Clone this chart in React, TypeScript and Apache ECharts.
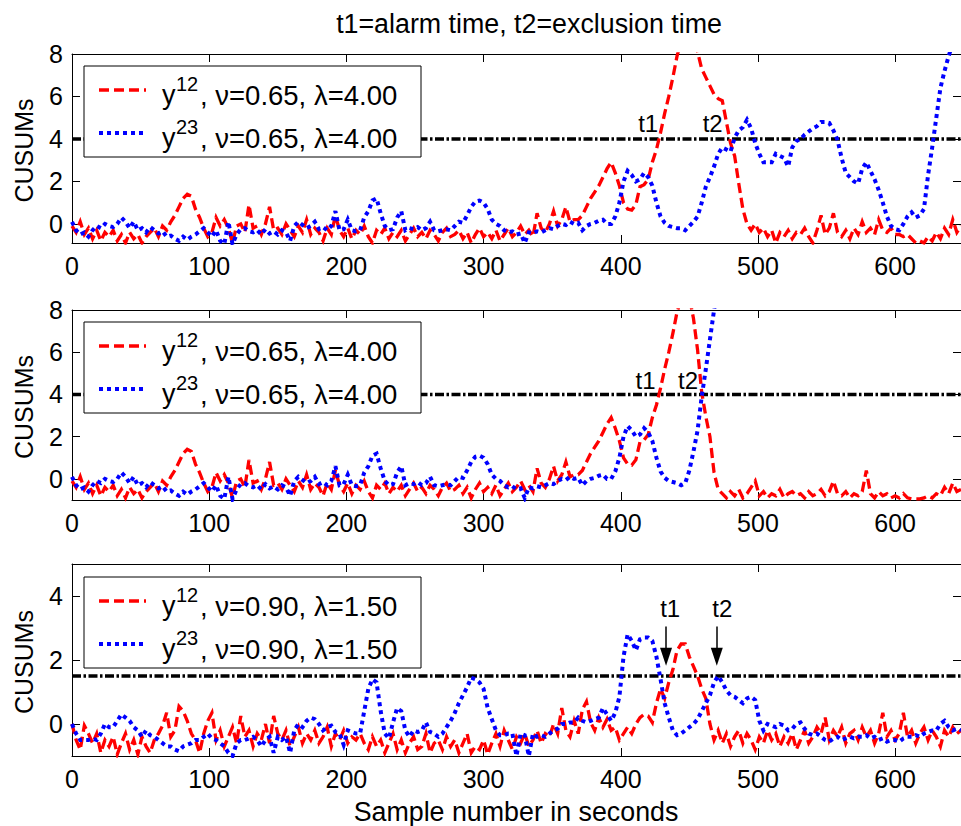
import React, { useEffect, useRef } from "react";
import * as echarts from "echarts";

// ---------- data ----------
const STEP = 3; // seconds between stored samples
const X_MAX = 648;
const X_TICKS = [0, 100, 200, 300, 400, 500, 600];
const Y_TICKS_A = [0, 2, 4, 6, 8];
const Y_TICKS_C = [0, 2, 4];
const THRESHOLDS = [4.0, 4.0, 1.5];
const NU = ["0.65", "0.65", "0.90"];
const LAMBDA = ["4.00", "4.00", "1.50"];

// shared part (0 .. 441 s) of panels 1 and 2
const y12Common = [
  -0.1, -0.4, 0.1, -0.5, -0.2, -0.7, -0.3, -0.8, -0.4, -0.6,
  -0.3, -0.8, -0.5, -0.9, -0.4, -0.7, -0.5, -0.9, -0.6, -0.4,
  -0.2, -0.6, -0.1, -0.3, 0.1, 0.4, 0.8, 1.2, 1.4, 1.3,
  0.7, 0.3, -0.2, -0.6, -0.4, 0.3, -0.1, 0.2, -0.2, -0.9,
  -0.1, 0.0, -0.4, 0.9, -0.2, -0.1, -0.5, 0.0, 0.8, -0.3,
  -0.2, -0.5, 0.0, -0.3, -0.6, -0.1, -0.4, 0.2, -0.5, -0.2,
  -0.4, -0.8, -0.2, -0.5, 0.4, -0.3, -0.6, -0.2, -0.7, -0.3,
  -0.5, -0.1, -0.6, -0.9, -0.3, -0.5, -0.2, -0.7, -0.4, -0.6,
  -0.3, -0.8, -0.5, -0.2, -0.6, -0.4, -0.7, -0.3, -0.5, -0.8,
  -0.4, -0.2, -0.6, -0.5, -0.3, -0.7, -0.4, -0.9, -0.5, -0.2,
  -0.6, -0.4, -0.7, -0.3, -0.8, -0.5, -0.2, -0.6, -0.4, -0.1,
  -0.5, -0.3, -0.6, 0.5, -0.2, -0.4, 0.0, 0.6, -0.1, 0.2,
  0.8, 0.1, 0.2, 0.2, 0.4, 0.8, 1.2, 1.5, 1.8, 2.2,
  2.6, 2.9, 2.4, 1.8, 1.0, 0.7, 0.65, 0.9, 1.75, 1.85,
  2.1, 2.9, 3.5, 4.3, 5.2, 6.0, 6.9, 7.9,
];
const y23Common = [
  0.1, -0.3, -0.5, -0.4, -0.6, -0.3, -0.1, -0.2, 0.0, -0.1,
  -0.15, 0.0, 0.3, 0.1, -0.2, 0.1, -0.3, -0.2, -0.4, -0.15,
  -0.3, -0.45, -0.35, -0.6, -0.55, -0.7, -0.8, -0.6, -0.75, -0.6,
  -0.5, -0.35, -0.2, -0.4, -0.6, -0.3, -0.8, -0.95, 0.1, -0.95,
  -0.5, -0.25, -0.2, -0.35, -0.4, -0.3, -0.5, -0.25, -0.45, -0.35,
  -0.5, -0.3, -0.4, -0.8, -0.1, 0.1, -0.05, -0.2, -0.1, 0.1,
  -0.25, -0.15, -0.3, -0.1, 0.6, -0.3, -0.25, 0.2, -0.3, -0.35,
  -0.3, 0.3, 0.6, 1.1, 1.2, 0.5, -0.1, -0.3, -0.25, 0.3,
  0.6, -0.3, -0.2, -0.25, -0.15, -0.3, -0.2, 0.1, -0.3, -0.35,
  -0.3, -0.25, -0.3, -0.1, 0.1, 0.05, 0.4, 0.8, 1.05, 1.1,
  1.0, 0.7, 0.2, 0.0, -0.1, -0.3, -0.4, -0.35, -0.5, -0.45,
  -0.9, -0.4, -0.45, -0.35, -0.4, -0.3, -0.2, -0.25, -0.1, 0.0,
  -0.05, 0.1, 0.0, 0.05, -0.3, -0.1, 0.0, 0.05, 0.15, 0.2,
  0.0, 0.0, 0.35, 1.0, 2.0, 2.5, 2.3, 2.0, 2.1, 2.4,
  2.2, 1.8, 1.0, 0.35, 0.05, -0.1, -0.15, -0.2,
];
// panel 1 tails (444 .. 648 s)
const y12TailTop = [
  8.6, 9.0, 9.0, 8.8, 8.1, 7.3, 6.9, 6.5, 6.1, 5.9,
  5.8, 4.8, 3.8, 3.2, 1.9, 0.7, 0.0, -0.3, 0.0, -0.4,
  -0.2, -0.6, -0.3, -0.9, -0.4, -0.6, -0.3, -0.7, -0.4, -0.5,
  -0.2, -0.6, -0.9, -0.3, 0.4, -0.5, -0.2, 0.5, -0.4, -0.6,
  -0.3, -0.7, -0.2, -0.5, 0.1, -0.4, -0.2, -0.5, 0.2, -0.3,
  -0.4, -0.2, -0.5, -0.5, -0.6, -0.5, -0.7, -0.9, -0.8, -0.9,
  -0.6, -0.8, -0.4, -0.7, -0.2, -0.5, 0.2, -0.4, -0.1,
];
const y23TailTop = [
  -0.2, -0.3, -0.1, 0.1, 0.35, 1.0, 1.75, 2.2, 2.7, 3.3,
  3.6, 3.5, 3.4, 4.05, 4.4, 4.55, 4.9, 4.5, 3.8, 3.3,
  2.9, 2.9, 2.9, 3.3, 3.2, 3.1, 2.7, 3.6, 3.9, 4.0,
  4.2, 4.35, 4.5, 4.6, 4.8, 4.8, 4.75, 4.4, 3.95, 3.1,
  2.4, 2.2, 2.0, 1.9, 2.6, 2.9, 2.5, 2.1, 1.6, 1.0,
  0.35, -0.1, -0.25, -0.3, 0.0, 0.35, 0.55, 0.3, 0.4, 0.7,
  2.3, 3.6, 5.0, 6.4, 7.2, 7.9, 8.5, 9.2, 9.8,
];
// panel 2 tails (444 s onwards)
const y12TailMid = [
  8.5, 8.9, 8.6, 7.6, 6.1, 4.1, 2.95, 2.0, 0.3, -0.5,
  -0.7, -0.9, -0.6, -0.8, -0.5, -0.9, -0.7, -0.4, -0.1, -0.8,
  -0.6, -0.9, -0.7, -0.8, -0.5, -0.9, -0.7, -0.6, -0.8, -0.7,
  -0.9, -0.6, -0.8, -0.7, -0.5, -0.8, -0.6, -0.1, -0.7, -0.8,
  -0.6, -0.9, -0.7, -0.8, -0.6, 0.4, -0.7, -0.9, -0.6, -0.8,
  -0.7, -0.9, -0.8, -0.9, -0.7, -0.9, -0.95, -0.95, -0.95, -0.9,
  -0.8, -0.9, -0.7, -0.8, -0.4, -0.7, -0.2, -0.6, -0.5,
];
const y23TailMid = [-0.3, -0.2, 0.4, 1.3, 2.3, 3.9, 5.2, 6.6, 8.0, 9.2, 10.3];
// panel 3 (0 .. 648 s)
const y12Bottom = [
  0.0, -0.5, -0.8, -0.05, -0.3, -0.6, -0.3, -0.9, -0.5, -0.7,
  -0.4, -0.95, -0.6, -0.3, -0.8, -0.5, -0.95, -0.4, -0.7, -0.9,
  -0.5, -0.3, -0.05, 0.35, -0.4, -0.2, 0.55, 0.4, 0.1, -0.3,
  -0.5, -0.9, -0.3, 0.1, 0.35, -0.5, -0.2, -0.7, -0.4, -0.1,
  -0.6, 0.25, -0.4, -0.2, -0.7, -0.3, -0.5, 0.0, -0.6, 0.25,
  -0.3, -0.5, -0.2, -0.7, -0.4, -0.1, -0.6, -0.3, -0.5, -0.2,
  -0.6, -0.4, -0.1, -0.7, -0.3, -0.5, -0.2, -0.6, -0.4, -0.5,
  -0.3, -0.6, -0.8, -0.4, -0.7, -0.5, -0.9, -0.6, -0.3, -0.8,
  -0.5, -0.9, -0.6, -0.4, -0.8, -0.7, -0.3, -0.9, -0.6, -0.5,
  -0.8, -0.4, -0.7, -0.5, -0.9, -0.6, -0.3, -0.9, -0.7, -0.8,
  -0.5, -0.95, -0.6, -0.3, -0.7, -0.2, -0.5, -0.8, -0.4, -0.6,
  -0.3, -0.7, -0.5, -0.2, -0.6, -0.3, -0.4, 0.0, -0.3, 0.5,
  -0.2, -0.4, 0.1, -0.3, 0.45, 0.7, 0.05, -0.2, 0.2, -0.1,
  0.15, -0.2, -0.1, -0.5, -0.3, -0.1, -0.3, 0.0, 0.2, 0.3,
  0.25, 0.05, 0.65, 1.1, 0.8, 1.3, 1.7, 2.3, 2.5, 2.5,
  2.1, 1.8, 1.5, 1.1, 0.8, 0.0, -0.5, -0.2, -0.6, -0.3,
  -0.7, -0.4, -0.2, -0.6, -0.3, -0.5, -0.8, -0.4, -0.6, -0.2,
  -0.5, -0.3, -0.7, -0.4, -0.6, -0.3, -0.8, -0.5, -0.2, -0.6,
  -0.4, -0.1, -0.3, 0.2, -0.5, -0.2, -0.4, -0.1, -0.6, -0.3,
  -0.2, -0.5, -0.1, -0.4, -0.2, -0.6, -0.3, 0.35, -0.4, -0.2,
  -0.5, -0.3, 0.35, -0.4, -0.2, -0.6, -0.3, -0.1, -0.5, -0.2,
  -0.4, -0.7, -0.2, -0.4, -0.1, -0.3, -0.2,
];
const y23Bottom = [
  0.0, -0.3, -0.5, -0.5, -0.5, -0.45, -0.5, -0.3, 0.0, -0.1,
  -0.1, 0.1, 0.3, 0.2, 0.1, -0.1, -0.2, -0.4, -0.2, -0.35,
  -0.4, -0.5, -0.6, -0.7, -0.7, -0.8, -0.85, -0.7, -0.65, -0.6,
  -0.5, -0.5, -0.4, -0.3, -0.45, -0.5, -0.6, -0.7, -0.9, -1.0,
  -0.6, -0.5, -0.5, -0.45, -0.4, -0.5, -0.7, -0.5, -0.4, -0.9,
  -0.4, -0.5, -0.4, -0.9, -0.2, 0.0, -0.1, 0.1, 0.2, 0.15,
  0.0, -0.2, -0.1, -0.05, -0.25, -0.3, -0.65, -0.2, -0.25, -0.3,
  -0.3, 0.4, 1.1, 1.4, 1.3, 0.4, -0.3, -0.45, 0.05, 0.5,
  0.4, -0.2, -0.4, -0.2, -0.25, -0.2, 0.05, -0.25, -0.3, -0.4,
  -0.3, -0.1, 0.1, 0.35, 0.65, 0.9, 1.15, 1.45, 1.4, 1.3,
  1.1, 0.5, 0.15, -0.2, -0.35, -0.35, -0.3, -0.3, -1.0, -0.3,
  -0.35, -1.0, -0.3, -0.4, -0.35, -0.4, -0.3, -0.2, -0.15, 0.0,
  0.0, 0.05, 0.05, 0.2, 0.1, 0.05, 0.1, 0.15, 0.2, 0.5,
  0.3, 0.1, 0.35, 0.85, 2.1, 2.8, 2.6, 2.3, 2.65, 2.7,
  2.7, 2.6, 2.1, 1.4, 0.65, 0.2, -0.2, -0.35, -0.3, -0.2,
  -0.1, 0.0, 0.15, 0.4, 0.65, 0.9, 1.3, 1.5, 1.3, 1.05,
  0.9, 0.85, 0.75, 0.65, 0.8, 0.85, 0.75, 0.1, -0.2, 0.0,
  -0.05, -0.1, 0.0, -0.05, -0.2, -0.15, 0.0, 0.05, -0.15, -0.3,
  -0.35, -0.3, -0.4, -0.5, -0.55, -0.45, -0.4, -0.5, -0.45, -0.4,
  -0.45, -0.4, -0.4, -0.35, -0.45, -0.4, -0.5, -0.45, -0.55, -0.5,
  -0.5, -0.55, -0.45, -0.4, -0.4, -0.35, -0.4, -0.3, -0.25, -0.2,
  -0.2, 0.0, 0.1, -0.1, -0.2, -0.15, -0.2,
];

// annotation marks: [label, x (s), y (CUSUM)]
const MARKS_TOP: [string, number, number][] = [["t1", 420, 4.75], ["t2", 467, 4.75]];
const MARKS_MID: [string, number, number][] = [["t1", 418, 4.65], ["t2", 449, 4.65]];
const MARKS_BOT: [string, number, number][] = [["t1", 436, 3.6], ["t2", 474, 3.6]];
const ARROWS_BOT: number[] = [433, 470];

// ---------- layout ----------
const FONT = "'Liberation Sans', Arial, Helvetica, sans-serif";
const GRID_LEFT = 72;
const GRID_WIDTH = 890;
const GRID_TOPS = [54, 310, 564];
const GRID_HEIGHTS = [189, 190, 192];
const Y_RANGES: [number, number][] = [[-0.9, 8], [-1, 8], [-1, 5]];
const LEGEND_TOPS = [66, 322, 577];

function pairs(values: number[], start = 0): number[][] {
  return values.map((v, i) => [start + i * STEP, v]);
}

const PANEL_RED = [
  [...y12Common, ...y12TailTop],
  [...y12Common, ...y12TailMid],
  y12Bottom,
];
const PANEL_BLUE = [
  [...y23Common, ...y23TailTop],
  [...y23Common, ...y23TailMid],
  y23Bottom,
];
const PANEL_MARKS = [MARKS_TOP, MARKS_MID, MARKS_BOT];

const RED_STYLE = { color: "#ff0000", width: 3.3, type: [10, 5], cap: "butt", join: "miter" };
const BLUE_STYLE = { color: "#0000ff", width: 4, type: [4, 4], cap: "butt", join: "miter" };

function buildOption() {
  const grid: any[] = [];
  const xAxis: any[] = [];
  const yAxis: any[] = [];
  const series: any[] = [];
  const graphic: any[] = [];

  const axisLine = { onZero: false, lineStyle: { color: "#000", width: 1 } };
  const labelStyle = { color: "#000", fontSize: 25, fontFamily: FONT };

  for (let i = 0; i < 3; i++) {
    grid.push({ left: GRID_LEFT, top: GRID_TOPS[i], width: GRID_WIDTH, height: GRID_HEIGHTS[i] });
    const yTicks = i === 2 ? Y_TICKS_C : Y_TICKS_A;
    xAxis.push({
      type: "value", gridIndex: i, position: "bottom", min: 0, max: X_MAX,
      axisLine,
      axisTick: { inside: true, length: 8, customValues: X_TICKS, lineStyle: { color: "#000" } },
      axisLabel: { ...labelStyle, margin: 10, customValues: X_TICKS },
      splitLine: { show: false },
    });
    yAxis.push({
      type: "value", gridIndex: i, position: "left", min: Y_RANGES[i][0], max: Y_RANGES[i][1],
      axisLine,
      axisTick: { inside: true, length: 8, customValues: yTicks, lineStyle: { color: "#000" } },
      axisLabel: { ...labelStyle, margin: 9, customValues: yTicks },
      splitLine: { show: false },
    });
  }
  for (let i = 0; i < 3; i++) {
    const yTicks = i === 2 ? Y_TICKS_C : Y_TICKS_A;
    xAxis.push({
      type: "value", gridIndex: i, position: "top", min: 0, max: X_MAX,
      axisLine,
      axisTick: { inside: true, length: 8, customValues: X_TICKS, lineStyle: { color: "#000" } },
      axisLabel: { show: false },
      splitLine: { show: false },
    });
    yAxis.push({
      type: "value", gridIndex: i, position: "right", min: Y_RANGES[i][0], max: Y_RANGES[i][1],
      axisLine,
      axisTick: { inside: true, length: 8, customValues: yTicks, lineStyle: { color: "#000" } },
      axisLabel: { show: false },
      splitLine: { show: false },
    });
  }

  for (let i = 0; i < 3; i++) {
    const thr = THRESHOLDS[i];
    const markData: any[] = PANEL_MARKS[i].map(([name, x, y]) => ({
      name, coord: [x, y], symbol: "circle", symbolSize: 1,
      itemStyle: { color: "rgba(0,0,0,0)" },
      label: { show: true, position: "inside", formatter: name, color: "#000", fontSize: 24, fontFamily: FONT },
    }));
    let markLine: any = undefined;
    if (i === 2) {
      ARROWS_BOT.forEach((x) => {
        markData.push({
          coord: [x, 2.1], symbol: "triangle", symbolSize: [12, 18], symbolRotate: 180,
          itemStyle: { color: "#000" }, label: { show: false },
        });
      });
      markLine = {
        silent: true, symbol: ["none", "none"], label: { show: false },
        lineStyle: { color: "#000", width: 1.5, type: "solid" },
        data: ARROWS_BOT.map((x) => [{ coord: [x, 3.05] }, { coord: [x, 2.3] }]),
      };
    }
    series.push({
      type: "line", name: "threshold" + i, xAxisIndex: i, yAxisIndex: i,
      data: [[0, thr], [X_MAX, thr]], symbol: "none", z: 2,
      lineStyle: { color: "#000", width: 3.5, type: [9, 2.5, 2.5, 2.5] },
      markPoint: { silent: true, data: markData },
      markLine,
    });
    series.push({
      type: "line", name: "y12_" + i, xAxisIndex: i, yAxisIndex: i,
      data: pairs(PANEL_RED[i]), symbol: "none", z: 3,
      lineStyle: RED_STYLE,
    });
    series.push({
      type: "line", name: "y23_" + i, xAxisIndex: i, yAxisIndex: i,
      data: pairs(PANEL_BLUE[i]), symbol: "none", z: 4,
      lineStyle: BLUE_STYLE,
    });
  }

  // title, axis names
  graphic.push({
    type: "text", x: 529, y: 24, z: 100,
    style: { text: "t1=alarm time, t2=exclusion time", fontSize: 26.8, fontFamily: FONT, fill: "#000", align: "center", verticalAlign: "middle" },
  });
  graphic.push({
    type: "text", x: 516, y: 812, z: 100,
    style: { text: "Sample number in seconds", fontSize: 26.8, fontFamily: FONT, fill: "#000", align: "center", verticalAlign: "middle" },
  });
  for (let i = 0; i < 3; i++) {
    graphic.push({
      type: "text", x: 24, y: GRID_TOPS[i] + GRID_HEIGHTS[i] / 2 + 2, rotation: Math.PI / 2, z: 100,
      style: { text: "CUSUMs", fontSize: 25, fontFamily: FONT, fill: "#000", align: "center", verticalAlign: "middle" },
    });
    const T = LEGEND_TOPS[i];
    const rows = [
      { style: RED_STYLE, sup: "12", dy: 0 },
      { style: BLUE_STYLE, sup: "23", dy: 43 },
    ];
    graphic.push({
      type: "rect", z: 100,
      shape: { x: 84, y: T, width: 337, height: 91 },
      style: { fill: "#fff", stroke: "#000", lineWidth: 1 },
    });
    rows.forEach((r) => {
      graphic.push({
        type: "line", z: 101,
        shape: { x1: 99, y1: T + 24 + r.dy, x2: 146, y2: T + 24 + r.dy },
        style: { stroke: r.style.color, lineWidth: r.style.width, lineDash: r.style.type },
      });
      graphic.push({
        type: "text", x: 162, y: T + 29 + r.dy, z: 101,
        style: { text: "y", fontSize: 27, fontFamily: FONT, fill: "#000", align: "left", verticalAlign: "middle" },
      });
      graphic.push({
        type: "text", x: 176, y: T + 18 + r.dy, z: 101,
        style: { text: r.sup, fontSize: 20, fontFamily: FONT, fill: "#000", align: "left", verticalAlign: "middle" },
      });
      graphic.push({
        type: "text", x: 200, y: T + 29 + r.dy, z: 101,
        style: { text: ", \u03bd=" + NU[i] + ", \u03bb=" + LAMBDA[i], fontSize: 27.5, fontFamily: FONT, fill: "#000", align: "left", verticalAlign: "middle" },
      });
    });
  }

  return {
    animation: false,
    backgroundColor: "#fff",
    grid, xAxis, yAxis, series, graphic,
  };
}

export default function App() {
  const ref = useRef<HTMLDivElement>(null);
  useEffect(() => {
    if (!ref.current) return;
    const chart = echarts.init(ref.current, null, { renderer: "svg" });
    chart.setOption(buildOption() as any);
    return () => chart.dispose();
  }, []);
  return (
    <div
      ref={ref}
      style={{ position: "absolute", left: 0, top: 0, width: 961, height: 826, background: "#fff" }}
    />
  );
}
